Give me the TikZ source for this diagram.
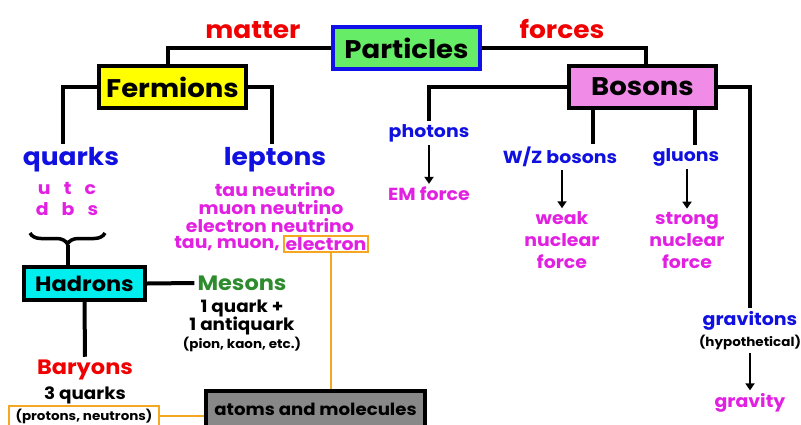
\documentclass[tikz,border=0pt]{standalone}
\usepackage{fontspec}
\setmainfont{Poppins}[FakeStretch=1.08]
\usetikzlibrary{positioning,calc,arrows.meta,decorations.pathreplacing}

\definecolor{partgreen}{RGB}{102,236,102}
\definecolor{partblue}{RGB}{16,16,232}
\definecolor{fermyellow}{RGB}{255,255,0}
\definecolor{bospink}{RGB}{240,140,232}
\definecolor{hadcyan}{RGB}{0,238,238}
\definecolor{atomgray}{RGB}{136,136,136}
\definecolor{txtblue}{RGB}{16,16,224}
\definecolor{txtred}{RGB}{240,0,0}
\definecolor{txtmag}{RGB}{226,32,226}
\definecolor{txtgreen}{RGB}{46,140,46}
\definecolor{linkorange}{RGB}{245,166,35}

\newcommand{\boxfont}{\fontsize{25.5}{25.5}\selectfont\bfseries}
\newcommand{\headfont}{\fontsize{24.5}{24.5}\selectfont\bfseries}
\newcommand{\subfont}{\fontsize{20.8}{20.8}\selectfont\bfseries}
\newcommand{\itemfont}{\fontsize{17.5}{17.5}\selectfont\bfseries}
\newcommand{\plainfont}{\fontsize{17}{17}\selectfont\bfseries}
\newcommand{\notefont}{\fontsize{12.5}{12.5}\selectfont\bfseries}

\begin{document}
\begin{tikzpicture}[x=1pt,y=1pt,
    bigbox/.style={draw=black, line width=4pt, inner sep=0pt,
        minimum width=147pt, minimum height=42pt, font=\boxfont},
    conn/.style={line width=4pt},
    link/.style={draw=linkorange, line width=2pt},
    arr/.style={-{Triangle[length=7pt,width=9pt]}, line width=1.8pt},
    lbl/.style={inner sep=3pt},
    lep/.style={inner sep=0.5pt, font=\itemfont, text=txtmag}]

    % page
    \useasboundingbox (0,0) rectangle (801,-424);

    % top level boxes
    \node[bigbox, fill=partgreen, draw=partblue] (part) at (406.5,-48) {Particles};
    \node[bigbox, fill=fermyellow] (ferm) at (172.5,-87) {Fermions};
    \node[bigbox, fill=bospink] (bos) at (642.5,-87) {Bosons};
    \node[lbl, font=\headfont, text=txtred] (matter) at (253,-30) {matter};
    \node[lbl, font=\headfont, text=txtred] (forces) at (562,-29) {forces};

    \draw[conn] (part.west) -| ([xshift=-5pt]ferm.north);
    \draw[conn] (part.east) -| ([xshift=3.5pt]bos.north);

    % fermions side
    \node[lbl, font=\headfont, text=txtblue] (quarks) at (71,-160) {quarks};
    \node[lbl, font=\headfont, text=txtblue] (leptons) at (275,-160) {leptons};
    \draw[conn] (ferm.west) -| ([xshift=-8pt]quarks.north);
    \draw[conn] (ferm.east) -| ([xshift=-3pt]leptons.north);

    \node[lbl, font=\itemfont, text=txtmag] (utc) at (67,-188) {u\hspace{0.75em}t\hspace{0.75em}c};
    \node[lbl, font=\itemfont, text=txtmag] (dbs) at (67,-209) {d\hspace{0.75em}b\hspace{0.75em}s};

    \node[lep] (tauneu) at (275,-190) {tau neutrino};
    \node[lep] (muneu) at (271,-208) {muon neutrino};
    \node[lep] (eneu) at (270,-225.5) {electron neutrino};
    \node[lep, draw=linkorange, line width=2pt, inner sep=1.5pt] (elec) at (326,-244) {electron};
    \node[lep, anchor=east, inner sep=1pt, xshift=-2pt] (taumu) at (elec.west) {tau, muon,};

    % hadrons
    \coordinate (bracetip) at (67.5,-245);
    \draw[line width=3.5pt, decorate, decoration={brace, amplitude=11pt}]
        (105,-233) -- (30,-233);
    \node[draw=black, line width=4pt, fill=hadcyan, inner sep=0pt,
        minimum width=121pt, minimum height=33pt, font=\subfont] (had) at (84.5,-283.5) {Hadrons};
    \draw[conn] (bracetip) -- (bracetip |- had.north);

    \node[lbl, font=\subfont, text=txtgreen] (mesons) at (242,-283) {Mesons};
    \node[lbl, font=\plainfont] (mq1) at (242,-308) {1 quark +};
    \node[lbl, font=\plainfont] (mq2) at (242,-326) {1 antiquark};
    \node[lbl, font=\notefont] (mq3) at (242,-344) {(pion, kaon, etc.)};
    \draw[conn] (had.east) -- (mesons.west);

    \node[lbl, font=\subfont, text=txtred] (baryons) at (85,-370) {Baryons};
    \node[lbl, font=\plainfont] (bq) at (85,-395) {3 quarks};
    \node[draw=linkorange, line width=2pt, inner sep=0pt, minimum width=150pt,
        minimum height=20pt, font=\notefont] (prot) at (84,-416) {(protons, neutrons)};
    \draw[conn] (had.south) -- (baryons.north);

    % atoms
    \node[draw=black, line width=4pt, fill=atomgray, inner sep=0pt,
        minimum width=219pt, minimum height=36pt, font=\fontsize{16.8}{16.8}\selectfont\bfseries] (atoms) at (315.5,-409) {atoms and molecules};
    \draw[link] ([xshift=5pt]elec.south) -- ([xshift=5pt]elec.south |- atoms.north);
    \draw[link] (prot.east) -- (prot.east -| atoms.west);

    % bosons side
    \node[lbl, font=\itemfont, text=txtblue] (phot) at (429,-133) {photons};
    \node[lbl, font=\itemfont, text=txtmag] (em) at (429,-194) {EM force};
    \draw[conn] (bos.west) -| (phot.north);
    \draw[arr] (phot.south) -- (em.north);

    \node[lbl, font=\itemfont, text=txtblue] (wz) at (560,-157) {W/Z bosons};
    \node[lbl, font=\itemfont, text=txtblue] (glu) at (686,-157) {gluons};
    \draw[conn] ([xshift=-50pt]bos.south) -- ([xshift=-50pt]bos.south |- wz.north);
    \draw[conn] ([xshift=52pt]bos.south) -- ([xshift=52pt]bos.south |- glu.north);

    \node[lbl, font=\fontsize{17.5}{22}\selectfont\bfseries, text=txtmag, align=center] (weak) at (562,-240) {weak\\nuclear\\force};
    \node[lbl, font=\fontsize{17.5}{22}\selectfont\bfseries, text=txtmag, align=center] (strong) at (687,-240) {strong\\nuclear\\force};
    \draw[arr] (wz.south -| weak.north) -- (weak.north);
    \draw[arr] (glu.south -| strong.north) -- (strong.north);

    \node[lbl, font=\fontsize{17.6}{17.6}\selectfont\bfseries, text=txtblue] (grav) at (750,-321) {gravitons};
    \node[lbl, font=\notefont] (hyp) at (750,-342) {(hypothetical)};
    \node[lbl, font=\itemfont, text=txtmag] (gravity) at (750,-403) {gravity};
    \draw[conn] (bos.east) -| (grav.north);
    \draw[arr] (hyp.south) -- (gravity.north);
\end{tikzpicture}
\end{document}
